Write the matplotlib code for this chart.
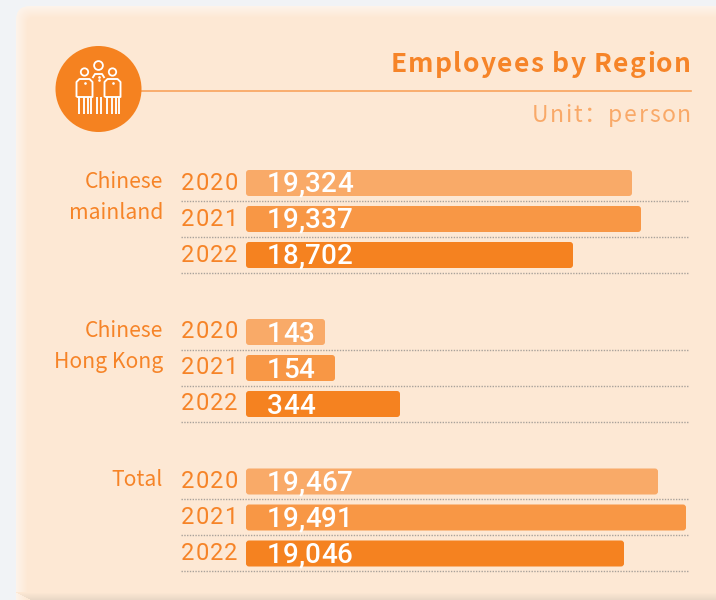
import matplotlib
matplotlib.use("Agg")
import matplotlib.pyplot as plt
from matplotlib.patches import Circle, FancyBboxPatch, Rectangle
from matplotlib.colors import to_rgb

# -----------------------------
# DATA
# -----------------------------
regions = ["Chinese\nmainland", "Chinese\nHong Kong", "Total"]
years = ["2020", "2021", "2022"]
value_labels = [
    ["19,324", "19,337", "18,702"],
    ["143", "154", "344"],
    ["19,467", "19,491", "19,046"],
]
# the bars in the original are not to scale with the labels,
# so these are the lengths
bar_lengths = [
    [386, 395, 327],
    [79, 89, 154],
    [412, 440, 378],
]
title = "Employees by Region"
unit = "Unit：person"

# -----------------------------
# STYLE
# -----------------------------
BG = "#f1f3f6"
CARD = "#fde8d4"
CARD_EDGE = "#fdf3ea"
ORANGE = "#f58220"
TEXT = "#f68428"
LIGHT_TEXT = "#f9a968"
BAR_COLORS = ["#f9aa68", "#f89745", "#f58220"]
CJK = ["Noto Sans CJK SC", "DejaVu Sans"]

GROUP_TOPS = [183, 332, 481.5]
ROW_STEP = 36
BAR_X = 246
BAR_H = 26

fig = plt.figure(figsize=(7.16, 6), dpi=100, facecolor=BG)
ax = fig.add_axes([0, 0, 1, 1])
ax.set_xlim(0, 716)
ax.set_ylim(600, 0)
ax.axis("off")
renderer = fig.canvas.get_renderer()


def mix(c1, c2, t):
    a, b = to_rgb(c1), to_rgb(c2)
    return tuple(a[k] + (b[k] - a[k]) * t for k in range(3))


def text_width(s, **kw):
    t = ax.text(0, 0, s, **kw)
    w = t.get_window_extent(renderer).width
    t.remove()
    return w


# matplotlib has no letter spacing, so place the text one char at a time
def spaced_text(x, y, s, tracking, ha="left", **kw):
    total = text_width(s, **kw) + tracking * (len(s) - 1)
    start = x - total if ha == "right" else x
    for i, ch in enumerate(s):
        if ch == " ":
            continue
        off = text_width(s[:i + 1], **kw) - text_width(ch, **kw)
        ax.text(start + off + i * tracking, y, ch, ha="left", va="baseline", zorder=5, **kw)


# card with a soft lighter edge
steps = 12
for k in range(steps):
    ax.add_patch(FancyBboxPatch((16 + k, 6 + k), 760, 640,
                                boxstyle="round,pad=0,rounding_size=%d" % (14 - k * 0.5),
                                fc=mix(CARD_EDGE, CARD, k / (steps - 1)), ec="none", zorder=1))
for k in range(8):
    ax.add_patch(Rectangle((16 + k * 2, 592 + k), 720, 1, fc=mix(CARD, "#e9d8c6", k / 7),
                           ec="none", zorder=1.5))

# -----------------------------
# ICON
# -----------------------------
ICON_LW = 1.35


def icon_line(xs, ys):
    ax.plot(xs, ys, color="white", lw=ICON_LW, zorder=4, solid_capstyle="butt")


ax.add_patch(Circle((98.5, 89), 43, fc=ORANGE, ec="none", zorder=3))
ax.plot([141, 691], [90.5, 90.5], color="#f9a35c", lw=1.2, zorder=2)
for cx, cy, r in [(98.5, 65.5, 4.4), (84.5, 72, 3.7), (112.5, 72, 3.7)]:
    ax.add_patch(Circle((cx, cy), r, fc="none", ec="white", lw=1.3, zorder=4))
# side people
for cx in (84.5, 112.5):
    icon_line([cx - 8, cx - 8, cx - 5, cx + 5, cx + 8, cx + 8, cx - 8],
              [97, 82, 79, 79, 82, 97, 97])
    for dx in (-5.5, -1, 3.5, 6.5):
        icon_line([cx + dx, cx + dx], [97, 113.5])
    ax.plot([cx], [83], ".", color="white", ms=1.8, zorder=4)
# middle person, only the shoulders show
icon_line([92.5, 95, 102, 104.5], [78, 74, 74, 78])
for lx in (97, 100.5):
    icon_line([lx, lx], [97, 113.5])
for dy in (76.5, 80):
    ax.plot([98.5], [dy], ".", color="white", ms=1.8, zorder=4)

# -----------------------------
# TITLE
# -----------------------------
spaced_text(691, 72.5, title, 1.3, ha="right", fontsize=19, color=TEXT,
            family=CJK, fontweight="bold")
spaced_text(691, 122, unit, 1.6, ha="right", fontsize=16.5, color=LIGHT_TEXT, family=CJK)

# -----------------------------
# BARS
# -----------------------------
for g, region in enumerate(regions):
    top = GROUP_TOPS[g]
    ax.text(163, top - 12, region, ha="right", va="top", fontsize=15.2, color=TEXT,
            family=CJK, linespacing=1.55, zorder=5)
    for i, year in enumerate(years):
        y = top + i * ROW_STEP
        length = bar_lengths[g][i]
        ax.add_patch(FancyBboxPatch((BAR_X, y - BAR_H / 2), length, BAR_H,
                                    boxstyle="round,pad=0,rounding_size=3",
                                    fc=BAR_COLORS[i], ec="none", zorder=3))
        spaced_text(181, y + 6.5, year, 1.0, fontsize=17, color=TEXT, family="Roboto")
        spaced_text(267, y + 9.5, value_labels[g][i], 0.1, fontsize=20, color="white",
                    family="Roboto", fontweight="medium")
        ax.plot([181, 688], [y + 17.7, y + 17.7], color="#a9a29b", lw=1, ls=(0, (1, 1)), zorder=2)

fig.savefig("out.png", dpi=100, facecolor=BG)
